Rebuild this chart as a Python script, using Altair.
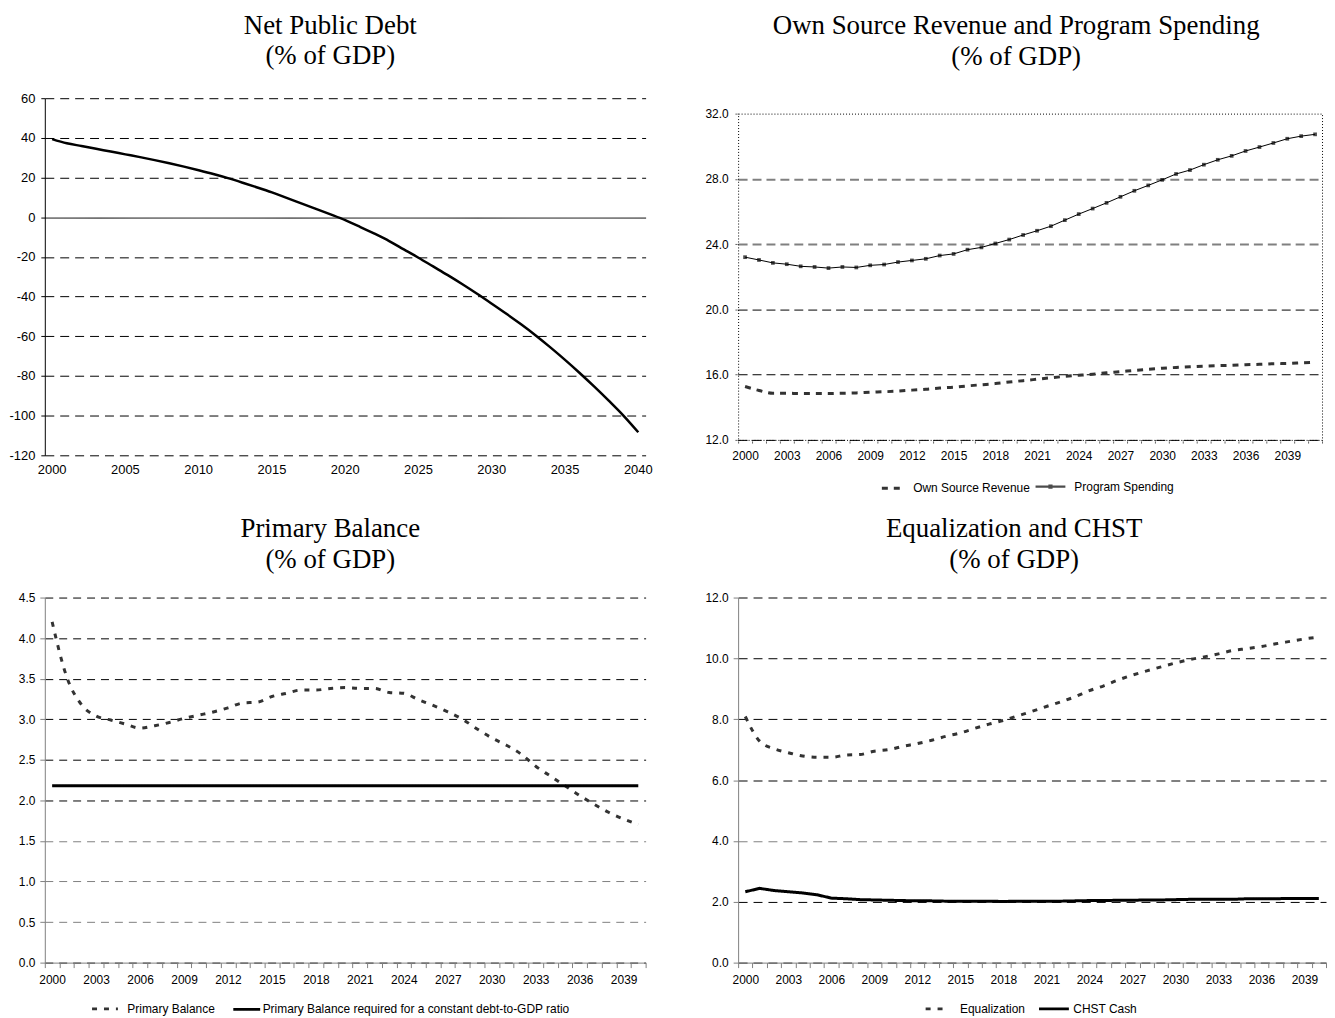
import altair as alt
import pandas as pd

# ---------------- data ----------------
years_a = list(range(2000, 2041))   # 2000-2040
years_b = list(range(2000, 2042))   # 2000-2041

net_public_debt = [39.4, 37.3, 35.9, 34.5, 33.1, 31.7, 30.3, 28.8, 27.2, 25.5,
                   23.7, 21.8, 19.7, 17.4, 15.0, 12.5, 9.8, 7.0, 4.2, 1.4,
                   -1.5, -4.8, -8.3, -12.0, -16.2, -20.4, -24.8, -29.2, -33.8, -38.6,
                   -43.6, -48.7, -54.0, -59.6, -65.6, -71.9, -78.5, -85.4, -92.6, -100.1,
                   -108.4]

own_source_revenue = [15.27, 15.03, 14.86, 14.86, 14.84, 14.84, 14.84, 14.86, 14.88, 14.92,
                      14.95, 14.99, 15.05, 15.10, 15.18, 15.23, 15.31, 15.38, 15.45, 15.55,
                      15.63, 15.72, 15.81, 15.89, 15.96, 16.03, 16.11, 16.18, 16.26, 16.33,
                      16.39, 16.44, 16.48, 16.52, 16.55, 16.57, 16.61, 16.63, 16.67, 16.68,
                      16.72, 16.76]

program_spending = [23.20, 23.03, 22.85, 22.77, 22.64, 22.60, 22.53, 22.60, 22.57, 22.70,
                    22.75, 22.90, 23.00, 23.10, 23.30, 23.40, 23.66, 23.80, 24.04, 24.28,
                    24.56, 24.82, 25.10, 25.47, 25.84, 26.18, 26.53, 26.90, 27.27, 27.60,
                    27.94, 28.30, 28.54, 28.87, 29.17, 29.41, 29.71, 29.95, 30.20, 30.46,
                    30.62, 30.73]

primary_balance = [4.20, 3.52, 3.18, 3.04, 2.99, 2.94, 2.89, 2.92, 2.96, 3.01,
                   3.05, 3.09, 3.14, 3.20, 3.21, 3.28, 3.32, 3.36, 3.36, 3.38,
                   3.39, 3.38, 3.38, 3.33, 3.32, 3.24, 3.17, 3.09, 3.00, 2.88,
                   2.77, 2.68, 2.57, 2.42, 2.30, 2.18, 2.06, 1.95, 1.85, 1.77,
                   1.70]

pb_required = [2.18, 2.18, 2.18, 2.18, 2.18, 2.18, 2.18, 2.18, 2.18, 2.18,
               2.18, 2.18, 2.18, 2.18, 2.18, 2.18, 2.18, 2.18, 2.18, 2.18,
               2.18, 2.18, 2.18, 2.18, 2.18, 2.18, 2.18, 2.18, 2.18, 2.18,
               2.18, 2.18, 2.18, 2.18, 2.18, 2.18, 2.18, 2.18, 2.18, 2.18,
               2.18]

equalization = [8.09, 7.28, 7.03, 6.90, 6.79, 6.75, 6.75, 6.82, 6.84, 6.95,
                7.00, 7.11, 7.20, 7.31, 7.44, 7.55, 7.70, 7.84, 7.96, 8.11,
                8.26, 8.42, 8.57, 8.74, 8.94, 9.10, 9.29, 9.45, 9.59, 9.72,
                9.85, 9.96, 10.05, 10.15, 10.26, 10.32, 10.39, 10.48, 10.56, 10.64,
                10.70]

chst_cash = [2.33, 2.44, 2.37, 2.33, 2.29, 2.23, 2.12, 2.10, 2.07, 2.06,
             2.05, 2.04, 2.03, 2.03, 2.02, 2.02, 2.02, 2.02, 2.01, 2.02,
             2.02, 2.02, 2.02, 2.03, 2.04, 2.04, 2.05, 2.05, 2.06, 2.06,
             2.07, 2.08, 2.08, 2.08, 2.08, 2.10, 2.10, 2.10, 2.11, 2.11,
             2.11]

debt_ticks = [-120, -100, -80, -60, -40, -20, 0, 20, 40, 60]
rev_ticks = [12, 16, 20, 24, 28, 32]
pb_ticks = [0, 0.5, 1.0, 1.5, 2.0, 2.5, 3.0, 3.5, 4.0, 4.5]
eq_ticks = [0, 2, 4, 6, 8, 10, 12]

titles = {
    "p1": ["Net Public Debt", "(% of GDP)"],
    "p2": ["Own Source Revenue and Program Spending", "(% of GDP)"],
    "p3": ["Primary Balance", "(% of GDP)"],
    "p4": ["Equalization and CHST", "(% of GDP)"],
}
names = {
    "osr": "Own Source Revenue",
    "ps": "Program Spending",
    "pb": "Primary Balance",
    "pbr": "Primary Balance required for a constant debt-to-GDP ratio",
    "eq": "Equalization",
    "chst": "CHST Cash",
}

SANS = "Liberation Sans"
SERIF = "Liberation Serif"
GRAY = "#808080"
DASHCOL = "#333333"


def make_title(lines, offset, dx):
    return alt.TitleParams(lines, font=SERIF, fontSize=27, fontWeight="normal",
                           color="black", lineHeight=31, anchor="middle",
                           offset=offset, dx=dx)


def band_scale():
    return alt.Scale(type="band", paddingInner=0, paddingOuter=0)


def line_legend(x, y, size, width, color, offset):
    return alt.Legend(title=None, orient="none", legendX=x, legendY=y,
                      symbolType="stroke", symbolSize=size, symbolStrokeWidth=width,
                      symbolStrokeColor=color, labelOffset=offset, labelLimit=600,
                      labelFont=SANS, labelFontSize=12, labelColor="black")


# ---------------- Panel 1: Net Public Debt ----------------
df1 = pd.DataFrame({"year": years_a, "debt": net_public_debt})
x1 = alt.X("year:O", title=None, scale=band_scale(),
           axis=alt.Axis(labelExpr="datum.value % 5 === 0 ? datum.label : ''",
                         labelAngle=0, ticks=False, domain=False, grid=False,
                         labelFontSize=13, labelPadding=8))
y1 = alt.Y("debt:Q", title=None,
           scale=alt.Scale(domain=[-120, 60], nice=False, zero=False),
           axis=alt.Axis(values=debt_ticks, labelExpr="'' + datum.value", labelFontSize=13,
                         domain=True, domainColor="black", domainWidth=1,
                         ticks=True, tickSize=4, tickColor="black",
                         labelPadding=6, grid=True, gridColor="black", gridWidth=1,
                         gridDash={"condition": {"test": "datum.value === 0", "value": [1, 0]},
                                   "value": [9, 6]}))
p1 = (alt.Chart(df1)
      .mark_line(color="black", strokeWidth=2.5, interpolate="monotone")
      .encode(x=x1, y=y1)
      .properties(width=604, height=359, title=make_title(titles["p1"], 22, -15)))

# ---------------- Panel 2: Own Source Revenue and Program Spending ----------------
df2 = pd.DataFrame({"year": years_b, "osr": own_source_revenue, "ps": program_spending})
x2 = alt.X("year:O", title=None, scale=band_scale(),
           axis=alt.Axis(labelExpr="(datum.value - 2000) % 3 === 0 ? datum.label : ''",
                         labelAngle=0, tickBand="extent", ticks=True, tickSize=3,
                         tickColor="black", tickDash=[1, 1], domain=False, grid=False,
                         labelFontSize=12, labelPadding=8))
grid2 = dict(grid=True,
             gridColor={"condition": [{"test": "datum.value === 32", "value": "transparent"},
                                      {"test": "datum.value === 24 || datum.value === 28", "value": GRAY}],
                        "value": "black"},
             gridWidth={"condition": {"test": "datum.value === 24 || datum.value === 28", "value": 2},
                        "value": 1},
             gridDash=[9, 5])
y2_axis = alt.Axis(values=rev_ticks, format=".1f", labelFontSize=12, domain=False,
                   ticks=True, tickSize=3, tickColor="black", tickDash=[1, 1],
                   labelPadding=7, **grid2)
y2_scale = alt.Scale(domain=[12, 32], nice=False, zero=False)
base2 = alt.Chart(df2)
osr_line = (base2.transform_calculate(k1=f"'{names['osr']}'")
            .mark_line(color=DASHCOL, strokeWidth=3, interpolate="monotone")
            .encode(x=x2, y=alt.Y("osr:Q", title=None, scale=y2_scale, axis=y2_axis),
                    strokeDash=alt.StrokeDash("k1:N", scale=alt.Scale(domain=[names["osr"]], range=[[6, 6]]),
                                              legend=line_legend(143, 364, 484, 3, DASHCOL, 8))))
ps_line = (base2.mark_line(color="black", strokeWidth=1)
           .encode(x=x2, y=alt.Y("ps:Q", title=None, scale=y2_scale, axis=y2_axis)))
ps_pts = (base2.transform_calculate(k2=f"'{names['ps']}'")
          .mark_square(size=14, color="black")
          .encode(x=x2, y=alt.Y("ps:Q", title=None, scale=y2_scale, axis=y2_axis),
                  fill=alt.Fill("k2:N", scale=alt.Scale(domain=[names["ps"]], range=["black"]),
                                legend=alt.Legend(title=None, orient="none", legendX=299, legendY=360,
                                                  symbolType="M-1,-0.07H1V0.07H-1Z M-0.14,-0.14H0.14V0.14H-0.14Z",
                                                  symbolSize=900, symbolStrokeWidth=0,
                                                  labelOffset=9, labelFont=SANS, labelLimit=600,
                                                  labelFontSize=12, labelColor="black"))))
p2 = (alt.layer(osr_line, ps_line, ps_pts)
      .resolve_legend(strokeDash="independent", fill="independent")
      .properties(width=587, height=328, title=make_title(titles["p2"], 37, -14),
                  view=alt.ViewBackground(stroke="black", strokeDash=[1, 2], strokeWidth=1)))

# ---------------- Panel 3: Primary Balance ----------------
df3 = pd.DataFrame({"year": years_a, "pb": primary_balance, "pbr": pb_required})
x3 = alt.X("year:O", title=None, scale=band_scale(),
           axis=alt.Axis(labelExpr="(datum.value - 2000) % 3 === 0 ? datum.label : ''",
                         labelAngle=0, tickBand="extent", ticks=True, tickSize=5,
                         tickColor=GRAY, domain=True, domainColor=GRAY, grid=False,
                         labelFontSize=12, labelPadding=7))
y3_axis = alt.Axis(values=pb_ticks, format=".1f", labelFontSize=12,
                   domain=True, domainColor=GRAY, ticks=True, tickSize=5, tickColor=GRAY,
                   labelPadding=5, grid=True,
                   gridColor={"condition": {"test": "datum.value > 0 && datum.value < 2", "value": GRAY},
                              "value": "black"},
                   gridDash=[8, 6], gridWidth=1)
y3_scale = alt.Scale(domain=[0, 4.5], nice=False, zero=False)
base3 = alt.Chart(df3)
pb_line = (base3.transform_calculate(k3=f"'{names['pb']}'")
           .mark_line(color=DASHCOL, strokeWidth=3, interpolate="monotone")
           .encode(x=x3, y=alt.Y("pb:Q", title=None, scale=y3_scale, axis=y3_axis),
                   strokeDash=alt.StrokeDash("k3:N", scale=alt.Scale(domain=[names["pb"]], range=[[5, 7]]),
                                             legend=line_legend(46, 399, 676, 3, DASHCOL, 8))))
pbr_line = (base3.transform_calculate(k4=f"'{names['pbr']}'")
            .mark_line(color="black", strokeWidth=3)
            .encode(x=x3, y=alt.Y("pbr:Q", title=None, scale=y3_scale, axis=y3_axis),
                    strokeDash=alt.StrokeDash("k4:N", scale=alt.Scale(domain=[names["pbr"]], range=[[1, 0]]),
                                              legend=line_legend(188, 399, 729, 3, "black", 1))))
p3 = (alt.layer(pb_line, pbr_line)
      .resolve_scale(strokeDash="independent")
      .resolve_legend(strokeDash="independent")
      .properties(width=604, height=367, title=make_title(titles["p3"], 18, -15)))

# ---------------- Panel 4: Equalization and CHST ----------------
df4 = pd.DataFrame({"year": years_a, "eq": equalization, "chst": chst_cash})
x4 = alt.X("year:O", title=None, scale=band_scale(),
           axis=alt.Axis(labelExpr="(datum.value - 2000) % 3 === 0 ? datum.label : ''",
                         labelAngle=0, tickBand="extent", ticks=True, tickSize=5,
                         tickColor=GRAY, domain=True, domainColor=GRAY, grid=False,
                         labelFontSize=12, labelPadding=7))
y4_axis = alt.Axis(values=eq_ticks, format=".1f", labelFontSize=12,
                   domain=True, domainColor=GRAY, ticks=True, tickSize=5, tickColor=GRAY,
                   labelPadding=5, grid=True,
                   gridColor={"condition": {"test": "datum.value === 12 || datum.value === 6 || datum.value === 4",
                                            "value": GRAY},
                              "value": "black"},
                   gridWidth={"condition": {"test": "datum.value === 12 || datum.value === 6", "value": 2},
                              "value": 1},
                   gridDash=[9, 6])
y4_scale = alt.Scale(domain=[0, 12], nice=False, zero=False)
base4 = alt.Chart(df4)
eq_line = (base4.transform_calculate(k5=f"'{names['eq']}'")
           .mark_line(color=DASHCOL, strokeWidth=3, interpolate="monotone")
           .encode(x=x4, y=alt.Y("eq:Q", title=None, scale=y4_scale, axis=y4_axis),
                   strokeDash=alt.StrokeDash("k5:N", scale=alt.Scale(domain=[names["eq"]], range=[[5, 7]]),
                                             legend=line_legend(187, 400, 576, 3, DASHCOL, 9))))
chst_line = (base4.transform_calculate(k6=f"'{names['chst']}'")
             .mark_line(color="black", strokeWidth=3)
             .encode(x=x4, y=alt.Y("chst:Q", title=None, scale=y4_scale, axis=y4_axis),
                     strokeDash=alt.StrokeDash("k6:N", scale=alt.Scale(domain=[names["chst"]], range=[[1, 0]]),
                                               legend=line_legend(301, 397, 900, 3, "black", 3))))
p4 = (alt.layer(eq_line, chst_line)
      .resolve_scale(strokeDash="independent")
      .resolve_legend(strokeDash="independent")
      .properties(width=591, height=367, title=make_title(titles["p4"], 18, -18)))

chart = (alt.concat(p1, p2, p3, p4, columns=2,
                    spacing={"row": 143, "column": 93},
                    bounds="flush", align="each",
                    center={"row": True, "column": False})
         .properties(padding={"left": 0, "top": 0, "right": 0, "bottom": 0})
         .configure_view(stroke="transparent")
         .configure_axis(labelFont=SANS, labelColor="black")
         .configure_title(font=SERIF))

chart.save("out.html", embed_options={"renderer": "svg", "actions": False})
